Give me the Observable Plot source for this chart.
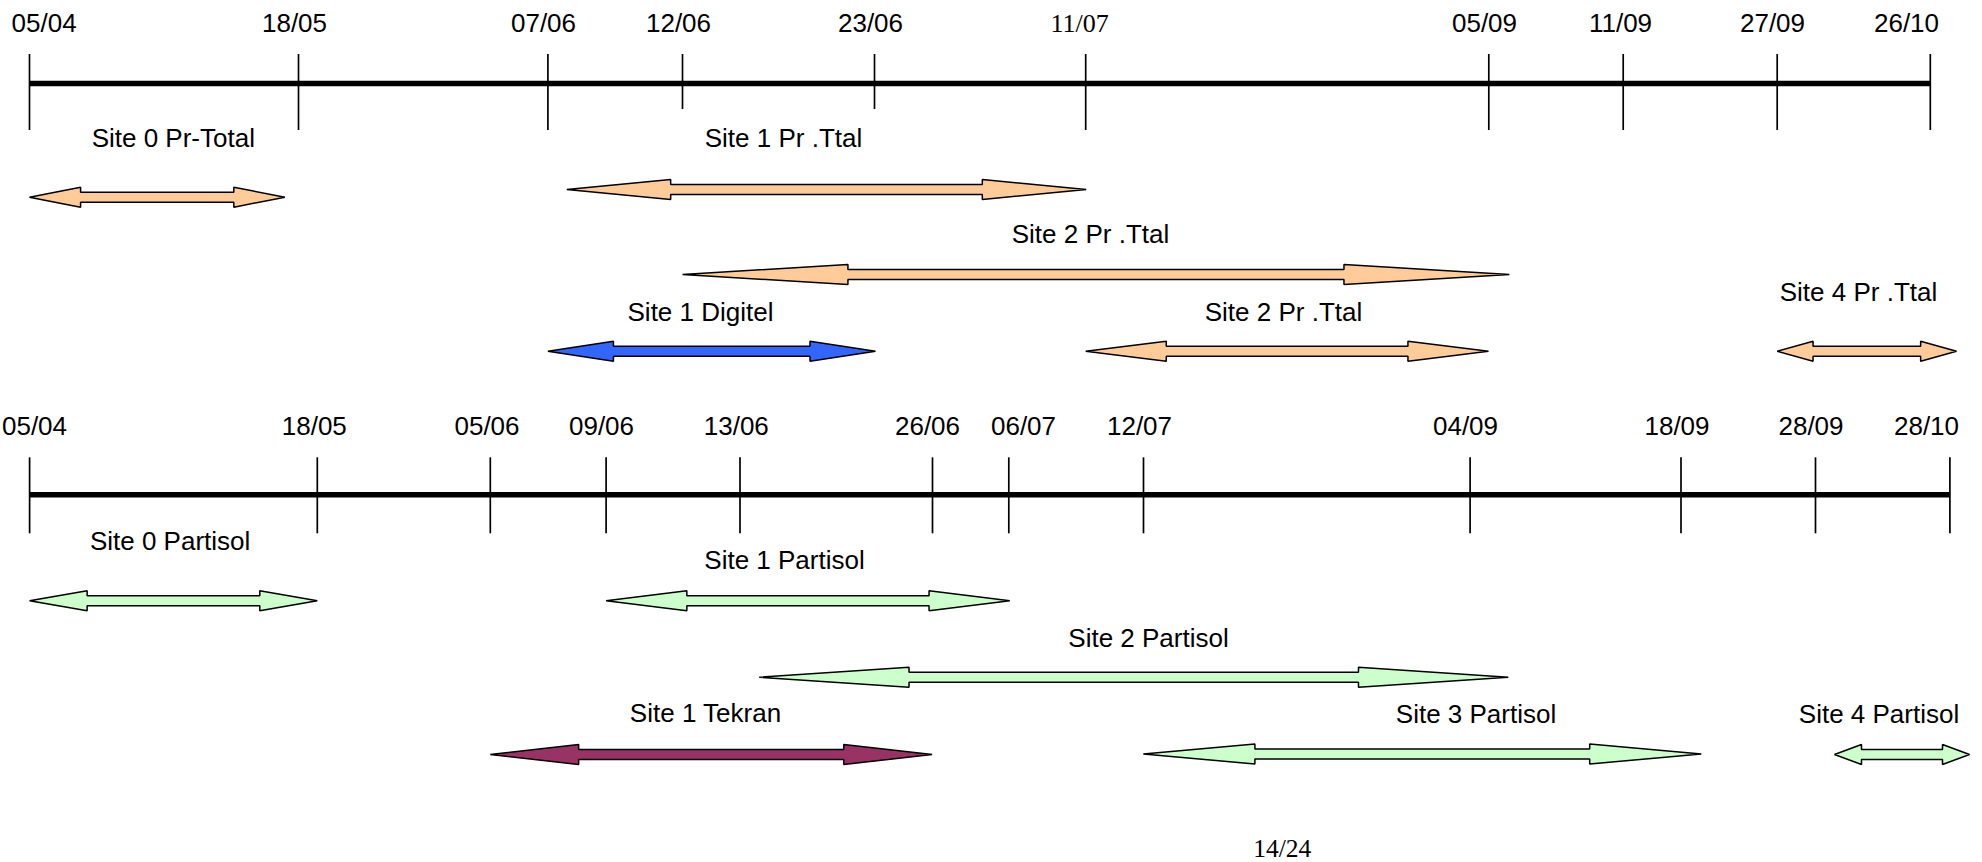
<!DOCTYPE html>
<html>
<head>
<meta charset="utf-8">
<script src="https://cdn.jsdelivr.net/npm/d3@7"></script>
<script src="https://cdn.jsdelivr.net/npm/@observablehq/plot@0.6"></script>
<style>
  html, body { margin: 0; padding: 0; background: #fff; }
  #chart svg { display: block; }
</style>
</head>
<body>
<div id="chart"></div>
<script>
// ---- Data (positions, in page-position units) ----
// Top timeline (Pr-Total / Digitel campaign)
const topLine = { y: 83, from: 29, to: 1930 };
const topTickLabels = ["05/04","18/05","07/06","12/06","23/06","11/07","05/09","11/09","27/09","26/10"];
const topTickAt     = [29, 298, 547.4, 682, 874, 1085.2, 1488.3, 1622.7, 1776.7, 1929.8];
const topLabelAt    = [43.6, 294, 543, 678, 870, 1079, 1484, 1620, 1772, 1906];
const topShortTicks = ["12/06", "23/06"];
const serifLabels   = ["11/07"];

// Bottom timeline (Partisol / Tekran campaign)
const bottomLine = { y: 494.3, from: 29, to: 1949.4 };
const bottomTickLabels = ["05/04","18/05","05/06","09/06","13/06","26/06","06/07","12/07","04/09","18/09","28/09","28/10"];
const bottomTickAt     = [29.1, 316.8, 489.8, 605.6, 739.5, 932, 1008.3, 1143, 1469.6, 1680.5, 1815, 1949.4];
const bottomLabelAt    = [34, 313.8, 486.5, 601, 735.8, 927, 1023, 1139, 1465, 1676.5, 1810.5, 1926];

// Measurement periods
const periodNames  = ["Site 0 Pr-Total","Site 1 Pr .Ttal","Site 2 Pr .Ttal","Site 1 Digitel","Site 2 Pr .Ttal","Site 4 Pr .Ttal",
                      "Site 0 Partisol","Site 1 Partisol","Site 2 Partisol","Site 1 Tekran","Site 3 Partisol","Site 4 Partisol"];
const periodStart  = [29, 566.3, 682.1, 547.4, 1085.2, 1776.7, 29.1, 605.6, 758.7, 489.8, 1142.8, 1834];
const periodEnd    = [284.4, 1085.7, 1508.8, 875, 1488, 1956, 316.8, 1009.3, 1507.8, 931.6, 1700.8, 1969];
const periodRow    = [196.7, 189, 274, 350.7, 350.7, 350.7, 600.3, 600.3, 676.7, 754, 753.5, 754];
const periodKind   = ["Pr-Total","Pr-Total","Pr-Total","Digitel","Pr-Total","Pr-Total",
                      "Partisol","Partisol","Partisol","Tekran","Partisol","Partisol"];
const labelX       = [172.8, 783, 1090, 700, 1283, 1858, 169.6, 784, 1148, 705, 1475.5, 1878.5];
const labelBase    = [146.7, 146.7, 242.7, 320, 320, 300.7, 549.3, 568.3, 646, 721.7, 722.3, 722.3];

const pageNumber = "14/24";

// ---- Styles ----
const W = 1982, H = 862;
const FS = 26;
const sans = "'Liberation Sans', Arial, Helvetica, sans-serif";
const serif = "'Liberation Serif', 'Times New Roman', Times, serif";
const kindColor = { "Pr-Total": "#FFCC99", "Partisol": "#CCFFCC", "Digitel": "#3366FF", "Tekran": "#993366" };
const headFrac = 0.2, headHalf = 10, shaftHalf = 5;

// ---- Build tables ----
const topTicks = topTickLabels.map((label, i) => ({
  label, at: topTickAt[i], lx: topLabelAt[i], line: topLine,
  up: 29, down: topShortTicks.includes(label) ? 26 : 47
}));
const bottomTicks = bottomTickLabels.map((label, i) => ({
  label, at: bottomTickAt[i], lx: bottomLabelAt[i], line: bottomLine, up: 37, down: 39
}));
const ticks = topTicks.concat(bottomTicks);
const tickLabelBase = { top: 31.7, bottom: 434.3 };
topTicks.forEach(t => t.base = tickLabelBase.top);
bottomTicks.forEach(t => t.base = tickLabelBase.bottom);

const periods = periodNames.map((name, i) => ({
  name, x1: periodStart[i], x2: periodEnd[i], y: periodRow[i],
  color: kindColor[periodKind[i]], lx: labelX[i], base: labelBase[i]
}));

function arrowPolygon(p) {
  const L = (p.x2 - p.x1) * headFrac;
  const a = p.x1, b = p.x1 + L, c = p.x2 - L, d = p.x2, y = p.y;
  return [
    [a, y], [b, y - headHalf], [b, y - shaftHalf], [c, y - shaftHalf], [c, y - headHalf],
    [d, y], [c, y + headHalf], [c, y + shaftHalf], [b, y + shaftHalf], [b, y + headHalf]
  ].map(([x, yy]) => ({ x, y: yy }));
}

const marks = [];
// timelines
marks.push(Plot.ruleY([topLine, bottomLine], { y: "y", x1: "from", x2: "to", stroke: "#000", strokeWidth: 5.5 }));
// ticks
marks.push(Plot.ruleX(ticks, {
  x: "at", y1: d => d.line.y - d.up, y2: d => d.line.y + d.down, stroke: "#000", strokeWidth: 1.7
}));
// tick labels
marks.push(Plot.text(ticks.filter(t => !serifLabels.includes(t.label)), {
  x: "lx", y: d => d.base - 0.32 * FS, text: "label", fontSize: FS, fontFamily: sans, fill: "#000", textAnchor: "middle"
}));
marks.push(Plot.text(ticks.filter(t => serifLabels.includes(t.label)), {
  x: "lx", y: d => d.base - 0.32 * FS, text: "label", fontSize: FS, fontFamily: serif, fill: "#000", textAnchor: "middle"
}));
// arrows
periods.forEach(p => {
  marks.push(Plot.line(arrowPolygon(p), {
    x: "x", y: "y", fill: p.color, stroke: "#000", strokeWidth: 1.5, curve: "linear-closed", strokeLinejoin: "miter"
  }));
});
// arrow labels
marks.push(Plot.text(periods, {
  x: "lx", y: d => d.base - 0.32 * FS, text: "name", fontSize: FS, fontFamily: sans, fill: "#000", textAnchor: "middle"
}));
// page number
marks.push(Plot.text([{ t: pageNumber, x: 1281.7, base: 856 }], {
  x: "x", y: d => d.base - 0.32 * 25.5, text: "t", fontSize: 25.5, fontFamily: serif, fill: "#000", textAnchor: "middle"
}));

const chart = Plot.plot({
  width: W,
  height: H,
  margin: 0,
  style: { background: "#fff", overflow: "visible" },
  x: { type: "linear", domain: [0, W], range: [0, W], axis: null },
  y: { type: "linear", domain: [0, H], range: [0, H], axis: null },
  marks
});
document.getElementById("chart").appendChild(chart);
</script>
</body>
</html>
